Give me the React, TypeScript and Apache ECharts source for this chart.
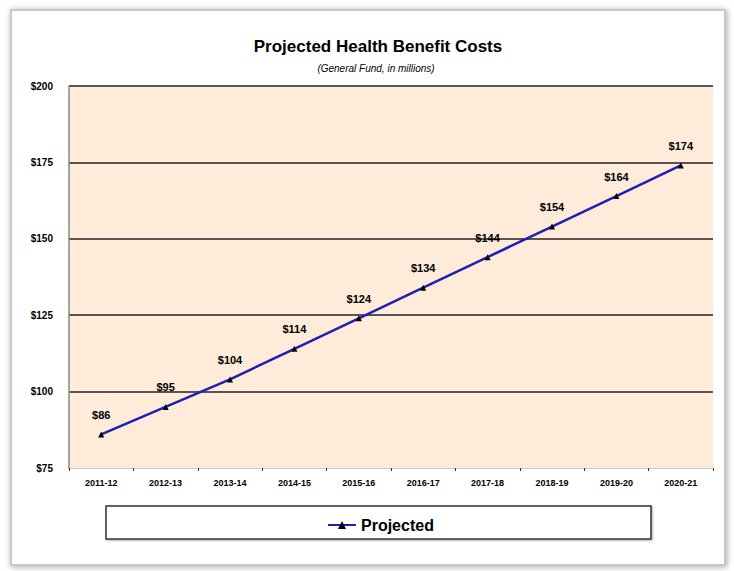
import React, { useEffect, useRef } from "react";
import * as echarts from "echarts";

const categories = ["2011-12", "2012-13", "2013-14", "2014-15", "2015-16", "2016-17", "2017-18", "2018-19", "2019-20", "2020-21"];
const projected = [86, 95, 104, 114, 124, 134, 144, 154, 164, 174];
const yTicks = { min: 75, max: 200, interval: 25 };

export default function App() {
  const ref = useRef<HTMLDivElement>(null);
  useEffect(() => {
    if (!ref.current) return;
    const chart = echarts.init(ref.current, null, { renderer: "svg" });
    const font = "'Liberation Sans', Arial, sans-serif";
    chart.setOption({
      animation: false,
      backgroundColor: "#ffffff",
      graphic: [
        {
          type: "rect",
          z: -10,
          silent: true,
          shape: { x: 11, y: 10, width: 714, height: 555 },
          style: { fill: "#ffffff", stroke: "#c8c8c8", lineWidth: 2, shadowBlur: 6, shadowColor: "rgba(0,0,0,0.35)", shadowOffsetX: 1, shadowOffsetY: 1 },
        },
        {
          type: "text",
          x: 378,
          y: 46,
          style: { text: "Projected Health Benefit Costs", font: `bold 17px ${font}`, fill: "#000", align: "center", verticalAlign: "middle" },
        },
        {
          type: "text",
          x: 376,
          y: 68,
          style: { text: "(General Fund, in millions)", font: `italic 10px ${font}`, fill: "#000", align: "center", verticalAlign: "middle" },
        },
        {
          type: "rect",
          silent: true,
          shape: { x: 106, y: 506, width: 545, height: 33 },
          style: { fill: "#ffffff", stroke: "#333333", lineWidth: 1.5, shadowBlur: 2, shadowColor: "rgba(0,0,0,0.3)", shadowOffsetX: 1, shadowOffsetY: 1 },
        },
      ],
      grid: {
        left: 69,
        right: 21,
        top: 86,
        bottom: 103,
        show: true,
        backgroundColor: "#feebd9",
        borderWidth: 0,
      },
      legend: {
        data: ["Projected"],
        left: 322,
        top: 512,
        itemWidth: 28,
        itemHeight: 10,
        textStyle: { fontFamily: font, fontWeight: "bold", fontSize: 16, color: "#000" },
      },
      xAxis: {
        type: "category",
        data: categories,
        boundaryGap: true,
        axisLine: { show: true, lineStyle: { color: "#cccccc", width: 1 } },
        axisTick: { show: true, length: 3, lineStyle: { color: "#333" } },
        axisLabel: { fontFamily: font, fontWeight: "bold", fontSize: 9, color: "#000", margin: 10 },
        splitLine: { show: false },
      },
      yAxis: {
        type: "value",
        min: yTicks.min,
        max: yTicks.max,
        interval: yTicks.interval,
        axisLine: { show: true, lineStyle: { color: "#888888", width: 1.5 } },
        axisTick: { show: false },
        axisLabel: {
          fontFamily: font,
          fontWeight: "bold",
          fontSize: 10,
          color: "#000",
          margin: 16,
          formatter: (v: number) => "$" + v,
        },
        splitLine: {
          show: true,
          lineStyle: { color: ["rgba(0,0,0,0)", "#222", "#222", "#222", "#222", "#222"], width: 1.5 },
        },
      },
      series: [
        {
          name: "Projected",
          type: "line",
          data: projected,
          symbol: "triangle",
          symbolSize: 6,
          itemStyle: { color: "#000" },
          lineStyle: { color: "#1f1fb4", width: 2.5 },
          label: {
            show: true,
            position: "top",
            distance: 11,
            fontFamily: font,
            fontWeight: "bold",
            fontSize: 11,
            color: "#000",
            formatter: (p: any) => "$" + p.value,
          },
        },
      ],
    });
    return () => chart.dispose();
  }, []);
  return <div ref={ref} style={{ position: "fixed", left: 0, top: 0, width: 734, height: 571 }} />;
}
